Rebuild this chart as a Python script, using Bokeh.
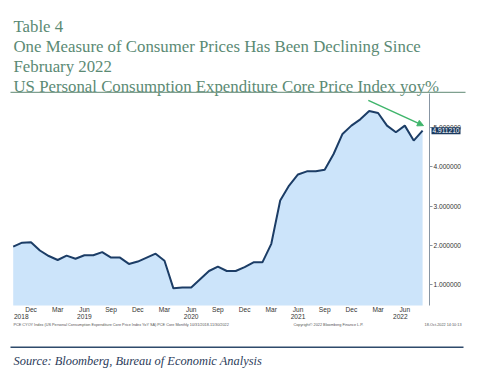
import pandas as pd
from bokeh.plotting import figure
from bokeh.models import (Range1d, LinearAxis, FixedTicker, PrintfTickFormatter,
                          Label, Arrow, NormalHead, BoxAnnotation, ColumnDataSource)
from bokeh.embed import file_html
from bokeh.resources import INLINE

# ---------------- data ----------------
months = [str(m) for m in pd.period_range("2018-10", "2022-08", freq="M")]
core_pce_yoy = [1.97, 2.07, 2.08,
                1.87, 1.73, 1.63, 1.74, 1.66, 1.75, 1.75, 1.83, 1.69, 1.69, 1.53, 1.59,
                1.69, 1.79, 1.61, 0.91, 0.93, 0.93, 1.14, 1.35, 1.46, 1.35, 1.35, 1.45,
                1.57, 1.57, 2.04, 3.14, 3.52, 3.80, 3.88, 3.88, 3.92, 4.32, 4.83, 5.04,
                5.20, 5.41, 5.36, 5.04, 4.87, 5.04, 4.66, 4.91121]
month_names = {"12": "Dec", "03": "Mar", "06": "Jun", "09": "Sep"}
year_labels = ["2018", "2019", "2020", "2021", "2022"]
y_ticks = [1, 2, 3, 4, 5]

# ---------------- layout ----------------
W, H = 480, 376
PLOT_BOTTOM, PLOT_TOP = 0.475, 5.855     # value range of the chart panel
AXIS_X = 46.78                            # x position (months) of the value axis
year_label_pos = [0.9, 8, 20, 32, 43.5]
TITLE_C = "#5b8a74"
NAVY = "#1c3d66"
GREEN = "#3fb56b"
LBL_FONT = "Liberation Sans"

x = list(range(len(months)))
src = ColumnDataSource(dict(x=x, y=core_pce_yoy, base=[PLOT_BOTTOM] * len(x)))

p = figure(width=W, height=H, output_backend="svg", toolbar_location=None,
           x_range=Range1d(-12.7 / 8.9, (W - 12.7) / 8.9),
           y_range=Range1d(1 - (H - 284.3) / 39.4, 1 + 284.3 / 39.4),
           x_axis_type=None, y_axis_type=None,
           min_border_left=0, min_border_right=0, min_border_top=0,
           min_border_bottom=0)
p.outline_line_color = None
p.background_fill_color = "white"
p.border_fill_color = "white"

p.varea(x="x", y1="base", y2="y", source=src, fill_color="#cce4fa")
p.line(x="x", y="y", source=src, line_color=NAVY, line_width=2)

# right value axis
yax = LinearAxis(ticker=FixedTicker(ticks=y_ticks), fixed_location=AXIS_X,
                 bounds=(PLOT_BOTTOM, PLOT_TOP),
                 formatter=PrintfTickFormatter(format="%.6f"))
yax.axis_line_color = "#8795a3"
yax.major_tick_line_color = "#8795a3"
yax.major_tick_out = 3
yax.major_tick_in = 0
yax.minor_tick_line_color = None
yax.major_label_standoff = 1
yax.major_label_text_font = LBL_FONT
yax.major_label_text_font_size = "6.6px"
yax.major_label_text_color = "#333333"
p.add_layout(yax, "right")

# month and year axes
mpos = [i for i, m in enumerate(months) if m[5:] in month_names]
mlab = {i: month_names[months[i][5:]] for i in mpos}
mx = LinearAxis(ticker=FixedTicker(ticks=mpos), major_label_overrides=mlab,
                fixed_location=PLOT_BOTTOM)
yrs = LinearAxis(ticker=FixedTicker(ticks=year_label_pos), fixed_location=PLOT_BOTTOM,
                 major_label_overrides=dict(zip(year_label_pos, year_labels)))
for ax, so in ((mx, 1), (yrs, 9)):
    ax.axis_line_color = None
    ax.major_tick_line_color = None
    ax.minor_tick_line_color = None
    ax.major_tick_out = 0
    ax.major_tick_in = 0
    ax.major_label_standoff = so
    ax.major_label_text_font = LBL_FONT
    ax.major_label_text_font_size = "6.6px"
    ax.major_label_text_color = "#333333"
p.add_layout(mx, "below")
p.add_layout(yrs, "below")

# last value tag
p.add_layout(Label(x=431, y=core_pce_yoy[-1], x_units="canvas", y_units="data",
                   text=f"{core_pce_yoy[-1]:.6f}", text_font=LBL_FONT,
                   text_font_size="6.6px", text_color="white", text_baseline="middle",
                   text_align="left", background_fill_color="#1b3a5f", padding=1))

# trend arrow
p.add_layout(Arrow(end=NormalHead(size=6, fill_color=GREEN, line_color=GREEN),
                   x_start=39.9, y_start=5.68, x_end=46.1, y_end=5.04,
                   line_color=GREEN, line_width=1.5))

# titles
titles = ["Table 4",
          "One Measure of Consumer Prices Has Been Declining Since",
          "February 2022",
          "US Personal Consumption Expenditure Core Price Index yoy%"]
for k, t in enumerate(titles):
    p.add_layout(Label(x=13, y=25.7 + 20 * k, x_units="canvas", y_units="canvas",
                       text=t, text_font="Liberation Serif", text_font_size="16.8px",
                       text_color=TITLE_C, text_baseline="alphabetic"))

# rules
p.add_layout(BoxAnnotation(left=10, right=465, top=91.3, bottom=92.6,
                           left_units="canvas", right_units="canvas",
                           top_units="canvas", bottom_units="canvas",
                           fill_color="#7fa08f", fill_alpha=1, line_color=None))
p.add_layout(BoxAnnotation(left=10, right=463, top=346, bottom=347.5,
                           left_units="canvas", right_units="canvas",
                           top_units="canvas", bottom_units="canvas",
                           fill_color="#2e4a6b", fill_alpha=1, line_color=None))

# footer small texts
foot = [(13, "left", "PCE CYOY Index (US Personal Consumption Expenditure Core Price Index YoY SA) PCE Core  Monthly 10/31/2018-11/30/2022"),
        (293, "left", "Copyright\u00a9 2022 Bloomberg Finance L.P."),
        (461, "right", "18-Oct-2022 14:10:13")]
for fx, al, t in foot:
    p.add_layout(Label(x=fx, y=324, x_units="canvas", y_units="canvas", text=t,
                       text_font=LBL_FONT, text_font_size="3.8px",
                       text_color="#555555", text_align=al, text_baseline="middle"))

p.add_layout(Label(x=13, y=360.7, x_units="canvas", y_units="canvas",
                   text="Source:  Bloomberg, Bureau of Economic Analysis",
                   text_font="Liberation Serif", text_font_style="italic",
                   text_font_size="12.4px", text_color="#2c3c5a",
                   text_baseline="alphabetic"))

open("out.html", "w").write(file_html(p, INLINE))
